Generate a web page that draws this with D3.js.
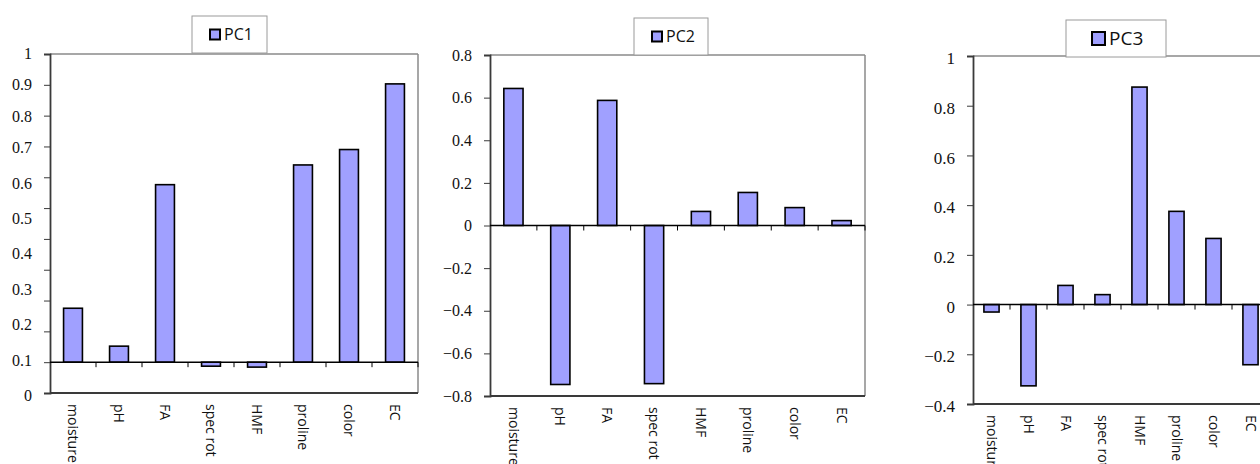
<!DOCTYPE html>
<html>
<head>
<meta charset="utf-8">
<script src="https://cdn.jsdelivr.net/npm/d3@7"></script>
<style>
  html, body { margin: 0; padding: 0; background: #ffffff; }
  svg { display: block; }
</style>
</head>
<body>
<svg id="chart" width="1260" height="464"></svg>
<script>
// ---------- data ----------
const categories = ["moisture", "pH", "FA", "spec rot", "HMF", "proline", "color", "EC"];

const pc1Values = [0.175, 0.052, 0.576, -0.013, -0.016, 0.64, 0.69, 0.903];
const pc2Values = [0.643, -0.746, 0.587, -0.742, 0.066, 0.155, 0.084, 0.023];
const pc3Values = [-0.03, -0.327, 0.077, 0.04, 0.875, 0.375, 0.266, -0.242];

// PC1: tick marks every 0.1 from -0.1 to 1; the printed labels run 1 … 0
const pc1TickValues = [-0.1, 0, 0.1, 0.2, 0.3, 0.4, 0.5, 0.6, 0.7, 0.8, 0.9, 1];
const pc1TickLabels = ["1", "0.9", "0.8", "0.7", "0.6", "0.5", "0.4", "0.3", "0.2", "0.1", "0"];
const pc1LabelValues = [1, 0.9, 0.8, 0.7, 0.6, 0.5, 0.4, 0.3, 0.2, 0.1, 0];

const pc2TickValues = [-0.8, -0.6, -0.4, -0.2, 0, 0.2, 0.4, 0.6, 0.8];
const pc3TickValues = [-0.4, -0.2, 0, 0.2, 0.4, 0.6, 0.8, 1];

const seriesNames = ["PC1", "PC2", "PC3"];

// ---------- styles ----------
const BAR_FILL = "#a0a0ff";
const AXIS_COL = "#3a3a3a";
const FRAME_COL = "#8a8a8a";
const SERIF = "'Liberation Serif', 'Times New Roman', serif";
const SANS = "'Open Sans', 'Liberation Sans', sans-serif";

const svg = d3.select("#chart");

function fmt(v) {
  if (Math.abs(v) < 1e-9) return "0";
  return d3.format("")(+v.toFixed(1));
}

function panel(cfg) {
  const g = svg.append("g");
  const x = d3.scaleBand().domain(categories).range([cfg.x0, cfg.x1])
    .paddingInner(0.59).paddingOuter(0.295);
  const xb = d3.scaleLinear().domain([0, categories.length]).range([cfg.x0, cfg.x1]);
  const y = d3.scaleLinear().domain(cfg.domain).range([cfg.yBottom, cfg.yTop]);

  // frame (top & right grey)
  g.append("line").attr("x1", cfg.x0).attr("x2", cfg.x1)
    .attr("y1", y(cfg.domain[1])).attr("y2", y(cfg.domain[1]))
    .attr("stroke", FRAME_COL).attr("stroke-width", 1.5);
  g.append("line").attr("x1", cfg.x1).attr("x2", cfg.x1)
    .attr("y1", y(cfg.domain[1])).attr("y2", y(cfg.domain[0]))
    .attr("stroke", FRAME_COL).attr("stroke-width", 1.5);
  // bottom frame line
  g.append("line").attr("x1", cfg.x0).attr("x2", cfg.x1)
    .attr("y1", y(cfg.domain[0])).attr("y2", y(cfg.domain[0]))
    .attr("stroke", AXIS_COL).attr("stroke-width", 1.8);

  // y axis
  const yAxis = d3.axisLeft(y).tickValues(cfg.tickValues).tickSize(6).tickPadding(12)
    .tickFormat(cfg.labelScale ? () => "" : fmt);
  const ya = g.append("g").attr("transform", `translate(${cfg.x0},0)`).call(yAxis);
  ya.attr("font-family", null).attr("font-size", null);
  ya.select(".domain").attr("stroke", AXIS_COL).attr("stroke-width", 1.8);
  ya.selectAll(".tick line").attr("stroke", AXIS_COL).attr("stroke-width", 1);
  ya.selectAll(".tick text").style("font-family", SERIF).style("font-size", cfg.tickFont + "px")
    .attr("fill", "#111").attr("dy", cfg.labelDy || "0.32em");

  if (cfg.labelScale) {
    g.selectAll("text.ylab").data(pc1LabelValues).join("text")
      .attr("class", "ylab")
      .attr("x", cfg.x0 - 18).attr("y", d => cfg.labelScale(d))
      .attr("dy", "0.32em").attr("text-anchor", "end")
      .style("font-family", SERIF).style("font-size", cfg.tickFont + "px").attr("fill", "#111")
      .text((d, i) => pc1TickLabels[i]);
  }

  // bars
  g.selectAll("rect.bar").data(cfg.values).join("rect")
    .attr("class", "bar")
    .attr("x", (d, i) => x(categories[i]))
    .attr("width", x.bandwidth())
    .attr("y", d => y(Math.max(0, d)))
    .attr("height", d => Math.abs(y(d) - y(0)))
    .attr("fill", BAR_FILL).attr("stroke", "#000").attr("stroke-width", 1.6);

  // category axis at value 0
  g.append("line").attr("x1", cfg.x0).attr("x2", cfg.x1)
    .attr("y1", y(0)).attr("y2", y(0))
    .attr("stroke", "#000").attr("stroke-width", 1.6);
  g.selectAll("line.xt").data(d3.range(1, categories.length + 1)).join("line")
    .attr("class", "xt")
    .attr("x1", d => xb(d)).attr("x2", d => xb(d))
    .attr("y1", y(0)).attr("y2", y(0) + 5)
    .attr("stroke", "#000").attr("stroke-width", 1);

  // category labels (rotated)
  g.selectAll("text.xl").data(categories).join("text")
    .attr("class", "xl")
    .attr("transform", d => `translate(${x(d) + x.bandwidth() / 2},${y(cfg.domain[0]) + 11}) rotate(90)`)
    .attr("dy", "0.35em")
    .attr("text-anchor", "start")
    .style("font-family", SANS).style("font-size", "14px").attr("fill", "#111")
    .text(d => d);

  // legend
  const L = cfg.legend;
  g.append("rect").attr("x", L.x).attr("y", L.y).attr("width", L.w).attr("height", L.h)
    .attr("fill", "#fff").attr("stroke", "#9a9a9a").attr("stroke-width", 1);
  g.append("rect").attr("x", L.x + L.sx).attr("y", L.y + L.h / 2 - L.s / 2)
    .attr("width", L.s).attr("height", L.s)
    .attr("fill", BAR_FILL).attr("stroke", "#000").attr("stroke-width", 2);
  g.append("text").attr("x", L.x + L.sx + L.s + 4).attr("y", L.y + L.h / 2)
    .attr("dy", "0.36em").style("font-family", SANS).style("font-size", L.fs + "px")
    .attr("fill", "#111").text(cfg.name);
}

panel({
  name: seriesNames[0], values: pc1Values,
  x0: 50, x1: 418, yTop: 54, yBottom: 393, domain: [-0.1, 1],
  tickValues: pc1TickValues, tickFont: 16,
  labelScale: d3.scaleLinear().domain([0, 0.7, 1]).range([396, 148, 54]),
  legend: { x: 192, y: 16, w: 75, h: 37, sx: 18, s: 10, fs: 16 }
});

panel({
  name: seriesNames[1], values: pc2Values,
  x0: 490, x1: 865, yTop: 55, yBottom: 396, domain: [-0.8, 0.8],
  tickValues: pc2TickValues, tickFont: 16,
  legend: { x: 634, y: 18, w: 74, h: 37, sx: 18, s: 10, fs: 16 }
});

panel({
  name: seriesNames[2], values: pc3Values,
  x0: 973, x1: 1269, yTop: 56, yBottom: 404, domain: [-0.4, 1],
  tickValues: pc3TickValues, tickFont: 17, labelDy: "0.45em",
  legend: { x: 1066, y: 20, w: 100, h: 37, sx: 26, s: 13, fs: 19 }
});
</script>
</body>
</html>
